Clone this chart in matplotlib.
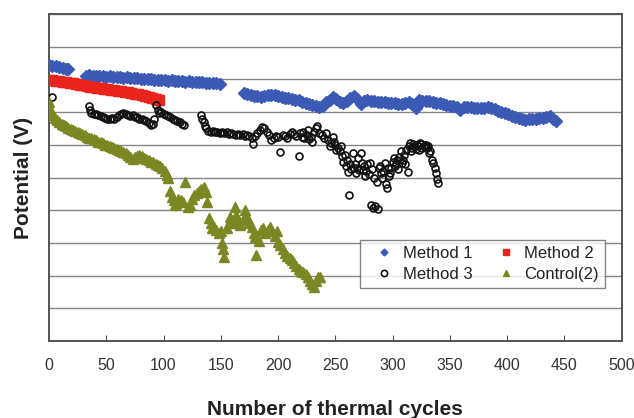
import matplotlib
matplotlib.use("Agg")
import matplotlib.pyplot as plt
from matplotlib.lines import Line2D

plt.rcParams['font.family'] = ['Liberation Sans', 'DejaVu Sans']

# ---------------- data (potential in arbitrary gridline units) ----------------
m1_cycles_a = [0, 3, 6, 9, 12, 15, 17]
m1_vals_a = [8.45, 8.42, 8.40, 8.37, 8.35, 8.33, 8.31]

m1_cycles_b = list(range(32, 150, 3))
m1_vals_b = [8.10, 8.12, 8.11, 8.10, 8.09, 8.10, 8.08, 8.09, 8.07, 8.08,
             8.06, 8.05, 8.06, 8.04, 8.03, 8.04, 8.02, 8.01, 8.02, 8.00,
             7.99, 7.98, 7.99, 7.97, 7.96, 7.97, 7.95, 7.96, 7.94, 7.93,
             7.94, 7.92, 7.93, 7.91, 7.92, 7.90, 7.89, 7.90, 7.88, 7.87]

m1_cycles_c = list(range(170, 444, 3))
m1_vals_c = [7.57, 7.56, 7.53, 7.50, 7.48, 7.47, 7.49, 7.51, 7.52, 7.51,
             7.48, 7.46, 7.44, 7.42, 7.40, 7.38, 7.36, 7.32, 7.28, 7.25,
             7.22, 7.18, 7.15, 7.20, 7.30, 7.38, 7.45, 7.40, 7.32, 7.28,
             7.35, 7.44, 7.49, 7.40, 7.26, 7.34, 7.36, 7.33, 7.34, 7.32,
             7.31, 7.30, 7.29, 7.28, 7.27, 7.26, 7.25, 7.27, 7.30, 7.26,
             7.12, 7.36, 7.35, 7.34, 7.33, 7.31, 7.29, 7.27, 7.25, 7.22,
             7.20, 7.18, 7.17, 7.05, 7.15, 7.16, 7.15, 7.14, 7.13, 7.12,
             7.14, 7.15, 7.12, 7.08, 7.03, 6.99, 6.96, 6.93, 6.89, 6.85,
             6.81, 6.78, 6.77, 6.78, 6.79, 6.80, 6.81, 6.83, 6.86, 6.87,
             6.80, 6.72]

m2_cycles = list(range(0, 97, 3))
m2_vals = [7.99, 7.98, 7.96, 7.94, 7.93, 7.92, 7.90, 7.88, 7.86, 7.84,
           7.82, 7.80, 7.78, 7.77, 7.75, 7.74, 7.72, 7.70, 7.68, 7.67,
           7.65, 7.64, 7.62, 7.60, 7.58, 7.56, 7.54, 7.52, 7.50, 7.47,
           7.44, 7.41, 7.38]

m3_cycles = [3,
             35, 36, 37, 39, 41, 43, 45, 47, 49, 51, 53, 55, 57, 59, 61, 63, 65, 67, 69,
             71, 73, 75, 77, 79, 81, 83, 85, 87, 89, 91, 92, 93, 95, 96, 98, 100, 102,
             104, 106, 108, 110, 112, 114, 116, 118,
             133, 134, 135, 136, 137, 139, 141, 143, 145, 147, 149, 151, 153, 155, 157,
             159, 161, 163, 165, 167, 169, 171, 173, 175, 177, 178, 180, 182, 184, 186,
             188, 190, 192, 194, 196, 198, 200, 202, 204, 206, 208, 210, 212, 214, 216,
             218, 219, 221, 222, 223, 225, 226, 227, 229, 230, 231, 233, 234, 236, 238,
             240, 242, 244, 245, 246, 248, 249, 250, 251, 252, 254, 255, 256, 257, 258,
             259, 260, 261, 262, 263, 264, 265, 266, 267, 268, 269, 270, 271, 272, 273,
             274, 275, 276, 277, 278, 279, 280, 281, 282, 283, 284, 285, 286, 287, 288,
             289, 290, 291, 292, 293, 294, 295, 296, 297, 298, 299, 300, 301, 302, 303,
             304, 305, 306, 307, 308, 309, 310, 311, 312, 313, 314, 315, 316, 317, 318,
             319, 320, 321, 322, 323, 324, 325, 326, 327, 328, 329, 330, 331, 332, 333,
             334, 335, 337, 338, 339, 340]
m3_vals = [7.47,
           7.20, 7.05, 6.96, 6.93, 6.95, 6.90, 6.88, 6.86, 6.82, 6.78, 6.80, 6.83, 6.80,
           6.86, 6.90, 6.95, 6.97, 6.93, 6.90, 6.88, 6.91, 6.86, 6.84, 6.80, 6.78, 6.75,
           6.72, 6.66, 6.62, 6.65, 6.80, 7.22, 7.05, 6.98, 7.00, 6.95, 6.90, 6.88, 6.84,
           6.80, 6.77, 6.74, 6.70, 6.65, 6.62,
           6.91, 6.80, 6.71, 6.58, 6.50, 6.43, 6.40, 6.42, 6.38, 6.40, 6.36, 6.38, 6.35,
           6.39, 6.34, 6.37, 6.33, 6.30, 6.34, 6.30, 6.33, 6.28, 6.31, 6.26, 6.20, 6.02,
           6.27, 6.35, 6.45, 6.55, 6.50, 6.40, 6.30, 6.15, 6.22, 6.28, 6.25, 5.79, 6.30,
           6.28, 6.22, 6.32, 6.38, 6.33, 6.28, 5.66, 6.35, 6.25, 6.40, 6.20, 6.30, 6.45,
           6.18, 6.25, 6.10, 6.40, 6.50, 6.58, 6.35, 6.30, 6.20, 6.35, 6.15, 5.95, 6.05,
           6.25, 6.10, 6.00, 5.85, 5.90, 5.80, 5.95, 5.65, 5.48, 5.70, 5.35, 5.55, 5.18,
           4.46, 5.40, 5.25, 5.75, 5.30, 5.40, 5.15, 5.30, 5.60, 5.22, 5.74, 5.45, 5.23,
           5.35, 5.05, 5.20, 5.40, 5.10, 5.44, 4.15, 5.25, 4.08, 5.00, 4.12, 4.87, 4.03,
           5.30, 5.35, 5.14, 5.00, 5.20, 5.45, 4.80, 4.68, 5.30, 5.05, 5.15, 5.30, 5.48,
           5.60, 5.35, 5.40, 5.55, 5.25, 5.64, 5.80, 5.45, 5.55, 5.70, 5.40, 5.84, 5.18,
           5.95, 6.05, 5.80, 5.90, 6.02, 5.95, 5.88, 6.00, 5.95, 5.85, 6.05, 6.02, 5.90,
           5.97, 5.99, 6.00, 5.90, 5.95, 5.74, 5.80, 5.55, 5.43, 5.30, 5.14, 4.95, 4.83]

ctrl_cycles = [0, 1, 2, 3, 5, 7, 9, 11, 13, 15, 17, 19, 21, 23, 25, 27, 29, 31, 33, 35,
               37, 39, 41, 43, 45, 47, 49, 51, 53, 55, 57, 59, 61, 63, 65, 67, 69, 71, 73,
               75, 77, 79, 81, 83, 85, 87, 89, 91, 93, 95, 97, 99, 101, 103, 104, 106, 107,
               109, 110, 111, 113, 115, 117, 119, 121, 123, 125, 127, 129, 131, 133, 135,
               137, 138, 140, 141, 142, 144, 146, 148, 150, 151, 152, 153, 155, 157, 158,
               160, 162, 163, 165, 167, 169, 171, 173, 175, 177, 179, 180, 181, 183, 185,
               187, 189, 191, 193, 195, 197, 199, 200, 202, 204, 206, 208, 210, 212, 214,
               216, 218, 220, 222, 224, 226, 228, 230, 231, 233, 235, 237]
ctrl_vals = [7.32, 7.10, 6.95, 6.90, 6.82, 6.75, 6.70, 6.65, 6.60, 6.56, 6.52, 6.48, 6.45,
             6.42, 6.38, 6.35, 6.32, 6.29, 6.25, 6.22, 6.20, 6.18, 6.14, 6.10, 6.08, 6.04,
             6.00, 5.98, 5.96, 5.93, 5.90, 5.88, 5.85, 5.82, 5.79, 5.74, 5.68, 5.63, 5.58,
             5.62, 5.67, 5.69, 5.65, 5.60, 5.56, 5.52, 5.48, 5.47, 5.42, 5.38, 5.34, 5.28,
             5.20, 5.08, 5.00, 4.60, 4.40, 4.30, 4.15, 4.22, 4.35, 4.30, 4.25, 4.87, 4.10,
             4.16, 4.35, 4.45, 4.52, 4.60, 4.65, 4.72, 4.55, 4.26, 3.75, 3.60, 3.45, 3.50,
             3.39, 3.30, 3.35, 3.00, 2.80, 2.57, 3.45, 3.60, 3.80, 3.70, 4.11, 3.85, 3.60,
             3.55, 3.70, 4.00, 3.80, 3.60, 3.50, 3.30, 3.19, 2.63, 3.05, 3.39, 3.45, 3.30,
             3.40, 3.50, 3.35, 3.20, 3.35, 3.04, 2.95, 2.80, 2.70, 2.60, 2.55, 2.48, 2.40,
             2.30, 2.20, 2.15, 2.10, 2.05, 1.95, 1.85, 1.75, 1.66, 1.85, 1.95, 1.97]

x_ticks = [0, 50, 100, 150, 200, 250, 300, 350, 400, 450, 500]
labels = ["Method 1", "Method 2", "Method 3", "Control(2)"]

# ---------------- figure ----------------
fig = plt.figure(figsize=(6.34, 4.18), dpi=100)
ax = fig.add_axes([0.0773, 0.1842, 0.9033, 0.7823])

blue = '#3a5ab6'
red = '#e8241c'
olive = '#7c8623'

for cx, cv in [(m1_cycles_a, m1_vals_a), (m1_cycles_b, m1_vals_b), (m1_cycles_c, m1_vals_c)]:
    ax.plot(cx, cv, ls='none', marker='D', ms=6, color=blue, mec=blue, zorder=3)
ax.plot(m2_cycles, m2_vals, ls='none', marker='s', ms=6.5, color=red, mec=red, zorder=3)
ax.plot(m3_cycles, m3_vals, ls='none', marker='o', ms=5, mfc='none', mec='#111111', mew=1.2, zorder=3)
ax.plot(ctrl_cycles, ctrl_vals, ls='none', marker='^', ms=6.5, color=olive, mec=olive, zorder=3)

ax.set_xlim(0, 500)
ax.set_ylim(0, 10)
ax.set_xticks(x_ticks)
ax.set_xticklabels([str(t) for t in x_ticks])
ax.set_yticks(range(0, 11))
ax.set_yticklabels([])
ax.tick_params(axis='y', length=0)
ax.tick_params(axis='x', direction='in', length=4, color='#555555', labelsize=11.5,
               labelcolor='#333333', pad=12)
ax.grid(axis='y', color='#858585', lw=1.0)
ax.set_axisbelow(True)
for s in ax.spines.values():
    s.set_color('#555555')
    s.set_linewidth(1.4)

ax.set_xlabel("Number of thermal cycles", fontsize=15, fontweight='bold', color='#222222', labelpad=20)
ax.set_ylabel("Potential (V)", fontsize=15, fontweight='bold', color='#222222', labelpad=8)

# legend
handles = [
    Line2D([], [], ls='none', marker='D', ms=3.5, color=blue),
    Line2D([], [], ls='none', marker='s', ms=5, color=red),
    Line2D([], [], ls='none', marker='o', ms=4.5, mfc='none', mec='black', mew=1.1),
    Line2D([], [], ls='none', marker='^', ms=5, color=olive),
]
order = [0, 2, 1, 3]
leg = ax.legend([handles[i] for i in order], [labels[i] for i in order], ncol=2,
                loc='upper left', bbox_to_anchor=(0.543, 0.309), borderaxespad=0,
                fontsize=12, frameon=True, fancybox=False, handlelength=2.2,
                handletextpad=0.0, columnspacing=0.9, labelspacing=0.38,
                borderpad=0.36)
leg.get_frame().set_edgecolor('#666666')
leg.get_frame().set_linewidth(1.0)
for t in leg.get_texts():
    t.set_color('#222222')

fig.savefig("out.png", dpi=100)
